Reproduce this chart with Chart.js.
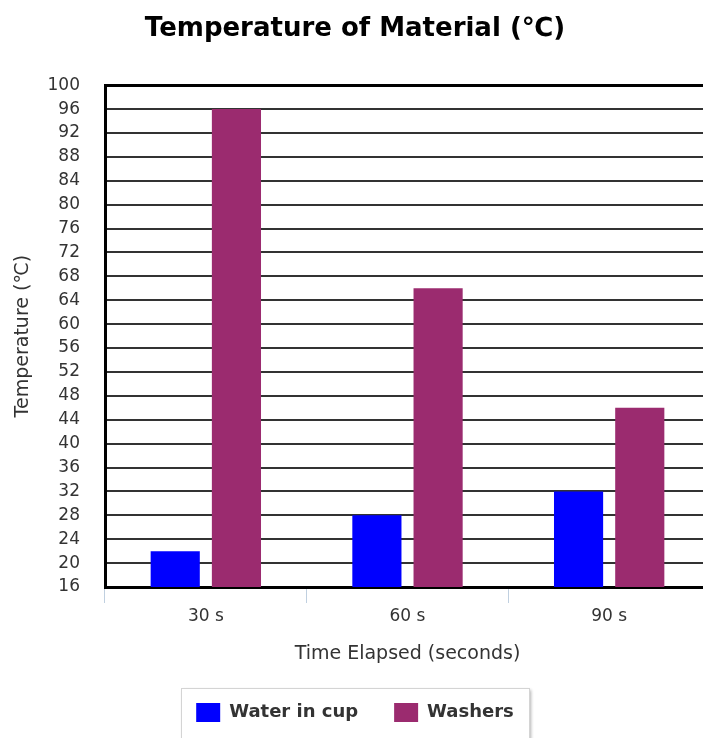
<!DOCTYPE html>
<html>
<head>
<meta charset="utf-8">
<script src="https://cdn.jsdelivr.net/npm/chart.js@4/dist/chart.umd.min.js"></script>
<style>
html,body{margin:0;padding:0;background:#fff;overflow:hidden;}
#wrap{position:relative;width:712px;height:738px;}
</style>
</head>
<body>
<div id="wrap"><canvas id="c"></canvas></div>
<script>
const categories = ['30 s', '60 s', '90 s'];
const waterInCup = [22, 28, 32];
const washers = [96, 66, 46];
const seriesNames = ['Water in cup', 'Washers'];
const chartTitle = 'Temperature of Material (\u2103)';
const yTitle = 'Temperature (\u2103)';
const xTitle = 'Time Elapsed (seconds)';
const yMin = 16, yMax = 100, yStep = 4;

const FONT = "'DejaVu Sans', Verdana, sans-serif";

const legendBox = {
  id: 'legendBox',
  afterDraw(chart) {
    const lg = chart.legend;
    if (!lg || !lg.legendHitBoxes || !lg.legendHitBoxes.length) return;
    const hb = lg.legendHitBoxes;
    let minX = Infinity, maxX = -Infinity, minY = Infinity, maxY = -Infinity;
    hb.forEach(b => { minX = Math.min(minX, b.left); maxX = Math.max(maxX, b.left + b.width);
      minY = Math.min(minY, b.top); maxY = Math.max(maxY, b.top + b.height); });
    const ctx = chart.ctx;
    ctx.save();
    const x = Math.round(minX - 15), y = Math.round(minY - 15), w = Math.round((maxX - minX) + 30), h = Math.round((maxY - minY) + 60);
    ctx.shadowColor = 'rgba(0,0,0,0.3)';
    ctx.shadowBlur = 3;
    ctx.shadowOffsetX = 2;
    ctx.shadowOffsetY = 2;
    ctx.fillStyle = '#fff';
    ctx.fillRect(x, y, w, h);
    ctx.shadowColor = 'transparent';
    ctx.strokeStyle = '#d4d4d4';
    ctx.lineWidth = 1;
    ctx.strokeRect(x + 0.5, y + 0.5, w, h);
    ctx.restore();
    lg.draw();
  }
};

new Chart(document.getElementById('c'), {
  type: 'bar',
  data: {
    labels: categories,
    datasets: [
      { label: seriesNames[0], data: waterInCup, backgroundColor: '#0000ff', borderWidth: 0,
        categoryPercentage: 0.607, barPercentage: 0.803 },
      { label: seriesNames[1], data: washers, backgroundColor: '#9b2b6f', borderWidth: 0,
        categoryPercentage: 0.607, barPercentage: 0.803 }
    ]
  },
  plugins: [legendBox],
  options: {
    responsive: true,
    maintainAspectRatio: false,
    animation: false,
    layout: { padding: { left: 0, right: 2, top: 0, bottom: 6 } },
    plugins: {
      title: {
        display: true, text: chartTitle, color: '#000',
        font: { family: FONT, size: 26, weight: 'bold' },
        padding: { top: 14, bottom: 40 }
      },
      legend: {
        position: 'bottom',
        labels: {
          boxWidth: 24, boxHeight: 19, padding: 36, color: '#333',
          font: { family: FONT, size: 18, weight: 'bold' }
        }
      },
      tooltip: { enabled: false }
    },
    scales: {
      x: {
        afterFit(scale) { scale.height = 80; },
        grid: { drawOnChartArea: false, drawTicks: true, tickLength: 16, color: '#c0d0e0', lineWidth: 1, offset: true },
        border: { display: true, color: '#000', width: 3 },
        ticks: { color: '#333', font: { family: FONT, size: 17 }, padding: 3 },
        title: { display: true, text: xTitle, color: '#333', font: { family: FONT, size: 19 }, padding: { top: 16, bottom: 2 } }
      },
      y: {
        min: yMin, max: yMax,
        afterFit(scale) { scale.width = 105; },
        ticks: { stepSize: yStep, color: '#333', font: { family: FONT, size: 17 }, padding: 25, autoSkip: false },
        grid: {
          drawTicks: false,
          color: ctx => (ctx.tick && ctx.tick.value === yMax) ? '#000' : '#333',
          lineWidth: ctx => (ctx.tick && ctx.tick.value === yMax) ? 3 : 2
        },
        border: { display: true, color: '#000', width: 3 },
        title: { display: true, text: yTitle, color: '#333', font: { family: FONT, size: 19 }, padding: { top: 12, bottom: 0 } }
      }
    }
  }
});
</script>
</body>
</html>
